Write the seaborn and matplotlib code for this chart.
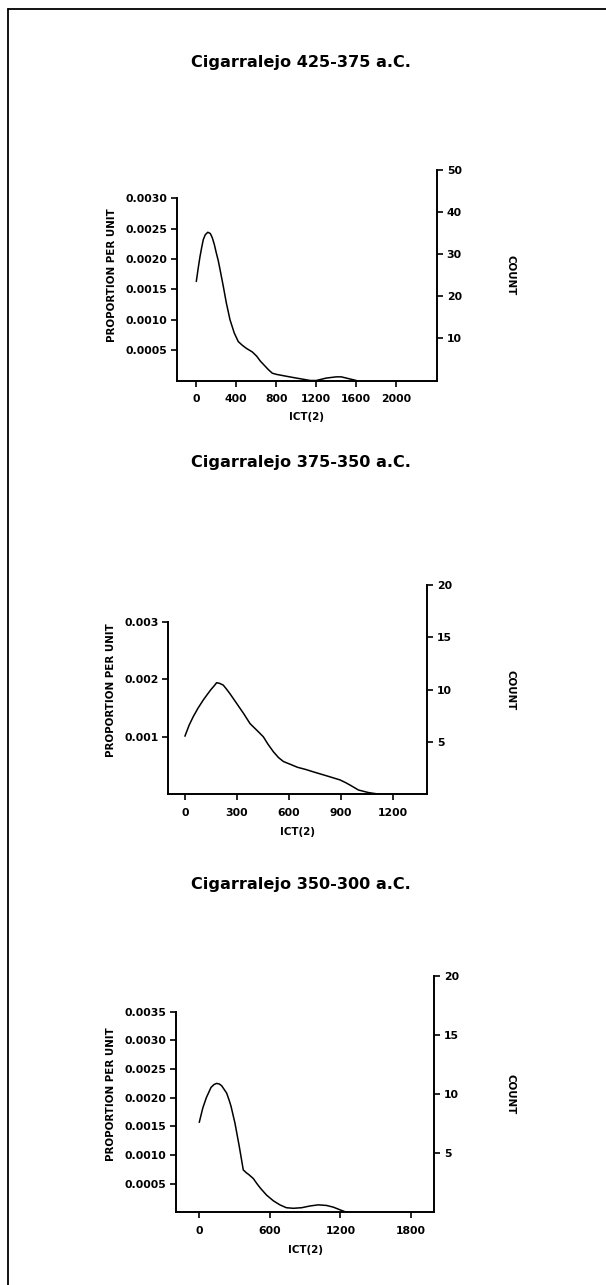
import matplotlib
matplotlib.use("Agg")
import matplotlib.pyplot as plt
import seaborn as sns
import pandas as pd
from matplotlib.ticker import FormatStrFormatter
from matplotlib.lines import Line2D

sns.set_theme(style="white")
plt.rcParams['font.family'] = ['DejaVu Sans']
plt.rcParams['font.weight'] = 'bold'

# ---------------- data ----------------
titles = ["Cigarralejo 425-375 a.C.", "Cigarralejo 375-350 a.C.", "Cigarralejo 350-300 a.C."]

x1 = [0, 20, 37, 55, 70, 90, 115, 140, 160, 180, 200, 220, 237, 270, 300, 337, 380, 420, 460,
      500, 560, 604, 640, 680, 720, 760, 804, 900, 1000, 1070, 1140, 1200, 1250, 1300, 1350,
      1400, 1450, 1500, 1550, 1600]
y1 = [0.00163, 0.00186, 0.00204, 0.00220, 0.00232, 0.00240, 0.00244, 0.00242, 0.00235, 0.00224,
      0.00210, 0.00197, 0.00183, 0.00155, 0.00128, 0.00100, 0.00078, 0.00064, 0.00058, 0.00053,
      0.00047, 0.00040, 0.00032, 0.00025, 0.00018, 0.00012, 0.00010, 0.00007, 0.00004, 0.00002,
      0.0, 0.0, 0.00002, 0.00004, 0.00005, 0.00006, 0.00006, 0.00004, 0.00002, 0.0]

x2 = [0, 24, 48, 76, 106, 130, 150, 170, 183, 200, 221, 240, 260, 299, 340, 376, 420, 453, 480,
      511, 540, 569, 610, 650, 700, 742, 820, 896, 930, 960, 1002, 1060, 1127]
y2 = [0.00101, 0.00120, 0.00135, 0.00150, 0.00164, 0.00174, 0.00182, 0.00189, 0.00194, 0.00193,
      0.00190, 0.00183, 0.00175, 0.00158, 0.00140, 0.00123, 0.00110, 0.00100, 0.00087,
      0.00074, 0.00064, 0.00057, 0.00052, 0.00047, 0.00043, 0.00039, 0.00032, 0.00025, 0.00020,
      0.00015, 0.000075, 0.00003, 0.0]

x3 = [0, 30, 60, 100, 125, 147, 170, 190, 210, 233, 255, 270, 303, 340, 374, 400, 420, 459, 490,
      520, 572, 630, 685, 740, 799, 870, 940, 1011, 1080, 1139, 1200, 1252]
y3 = [0.00157, 0.00182, 0.00200, 0.00218, 0.00223, 0.00225, 0.00224, 0.00221, 0.00215, 0.00208,
      0.00195, 0.00185, 0.00156, 0.00115, 0.00074, 0.00069, 0.00066, 0.00059, 0.00050,
      0.00042, 0.00030, 0.00020, 0.00013, 0.00008, 0.00007, 0.00008, 0.00011, 0.00013, 0.00012,
      0.00009, 0.00004, 0.0]

xticks = [[0, 400, 800, 1200, 1600, 2000], [0, 300, 600, 900, 1200], [0, 600, 1200, 1800]]
yticks_left = [[0.0005, 0.0010, 0.0015, 0.0020, 0.0025, 0.0030],
               [0.001, 0.002, 0.003],
               [0.0005, 0.0010, 0.0015, 0.0020, 0.0025, 0.0030, 0.0035]]
left_fmt = ["%.4f", "%.3f", "%.4f"]
yticks_right = [[10, 20, 30, 40, 50], [5, 10, 15, 20], [5, 10, 15, 20]]

# ---------------- layout (pixels) ----------------
W, H = 606, 1285
boxes = [  # left, right, top, bottom in pixels
    (177, 437, 170, 380.5),
    (168.3, 427.3, 585, 794.3),
    (176.3, 434.3, 975.7, 1212.3),
]
xlims = [(-193, 2407), (-96, 1400), (-195, 1997)]
ylims_left = [0.003465, 0.00364, 0.00413]
ylims_right = [50, 20, 20]
title_y = [63, 462, 884]
xlabel_y = [417, 832, 1250]

fig = plt.figure(figsize=(W / 100, H / 100), dpi=100)
fig.patch.set_facecolor("white")

# page border (left and top)
fig.add_artist(Line2D([8 / W, 8 / W], [0, 1 - 9 / H], transform=fig.transFigure, color="black", lw=1.3))
fig.add_artist(Line2D([8 / W, 1], [1 - 9 / H, 1 - 9 / H], transform=fig.transFigure, color="black", lw=1.3))

datasets = [(x1, y1), (x2, y2), (x3, y3)]
tick_fs = 7.8
lab_fs = 7.4

for i, (xs, ys) in enumerate(datasets):
    l, r, t, b = boxes[i]
    ax = fig.add_axes([l / W, 1 - b / H, (r - l) / W, (b - t) / H])
    ax.set_facecolor("white")
    df = pd.DataFrame({"x": xs, "y": ys})
    sns.lineplot(data=df, x="x", y="y", ax=ax, color="black", lw=1.1, sort=False, estimator=None)
    ax.set_xlim(*xlims[i])
    ax.set_ylim(0, ylims_left[i])
    ax.set_xticks(xticks[i])
    ax.set_yticks(yticks_left[i])
    ax.yaxis.set_major_formatter(FormatStrFormatter(left_fmt[i]))
    for s in ["top", "right"]:
        ax.spines[s].set_visible(False)
    for s in ["left", "bottom"]:
        ax.spines[s].set_visible(True)
        ax.spines[s].set_color("black")
        ax.spines[s].set_linewidth(1.4)
    ax.spines["left"].set_bounds(0, yticks_left[i][-1])
    ax.tick_params(axis="both", direction="out", length=4, width=1.2, color="black",
                   labelsize=tick_fs, labelcolor="black", left=True, bottom=True, pad=3)
    ax.tick_params(axis="x", pad=6)
    for lab in ax.get_xticklabels() + ax.get_yticklabels():
        lab.set_fontweight("bold")
    ax.set_xlabel("")
    ax.set_ylabel("PROPORTION PER UNIT", fontsize=lab_fs, fontweight="bold", color="black", labelpad=6)
    ax.grid(False)

    ax2 = ax.twinx()
    ax2.set_ylim(0, ylims_right[i])
    ax2.set_yticks(yticks_right[i])
    for s in ["top", "left", "bottom"]:
        ax2.spines[s].set_visible(False)
    ax2.spines["right"].set_visible(True)
    ax2.spines["right"].set_color("black")
    ax2.spines["right"].set_linewidth(1.4)
    ax2.tick_params(axis="y", direction="out", length=4, width=1.2, color="black",
                    labelsize=tick_fs, labelcolor="black", right=True, pad=3)
    for lab in ax2.get_yticklabels():
        lab.set_fontweight("bold")
    ax2.grid(False)
    # COUNT label
    fig.text(510 / W, 1 - ((t + b) / 2) / H, "COUNT", rotation=270, ha="center", va="center",
             fontsize=lab_fs, fontweight="bold", color="black")

    # x label and title
    cx = (l + r) / 2
    fig.text(cx / W, 1 - xlabel_y[i] / H, "ICT(2)", ha="center", va="center",
             fontsize=lab_fs, fontweight="bold", color="black")
    fig.text(301 / W, 1 - title_y[i] / H, titles[i], ha="center", va="center",
             fontsize=11.6, fontweight="bold", color="black")

fig.savefig("out.png", dpi=100, facecolor="white")
